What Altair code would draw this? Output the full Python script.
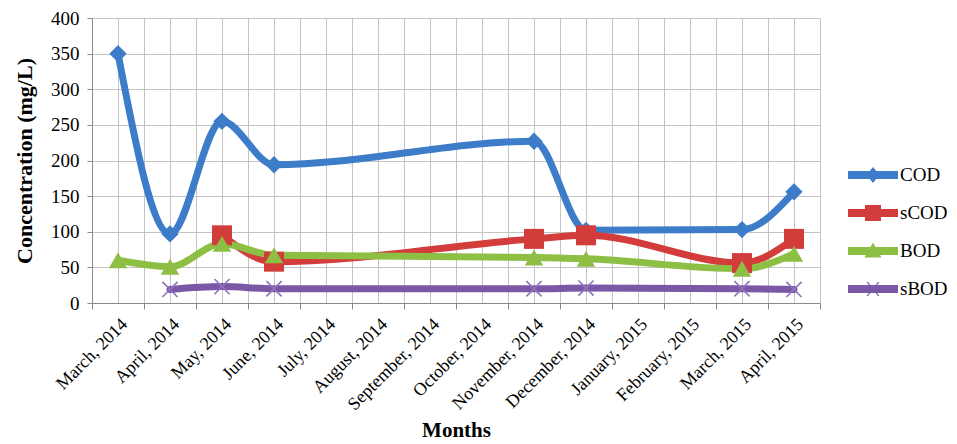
import json
import altair as alt
import pandas as pd

months = ["March, 2014", "April, 2014", "May, 2014", "June, 2014", "July, 2014",
          "August, 2014", "September, 2014", "October, 2014", "November, 2014",
          "December, 2014", "January, 2015", "February, 2015", "March, 2015", "April, 2015"]
series_names = ["COD", "sCOD", "BOD", "sBOD"]
cod = [350, 97, 255, 194, None, None, None, None, 227, 102, None, None, 103, 156]
scod = [None, None, 95, 58, None, None, None, None, 90, 95, None, None, 56, 90]
bod = [60, 51, 83, 67, None, None, None, None, 64, 62, None, None, 48, 69]
sbod = [None, 19, 23, 20, None, None, None, None, 20, 21, None, None, 20, 19]
colors = ["#3d7cc9", "#d23c3a", "#8dbf45", "#7b58a6"]
y_ticks = [0, 50, 100, 150, 200, 250, 300, 350, 400]

rows = []
for name, vals in zip(series_names, [cod, scod, bod, sbod]):
    for i, v in enumerate(vals):
        if v is not None:
            rows.append({"idx": i, "series": name, "value": v, "month": months[i]})
df = pd.DataFrame(rows)

FONT = "Liberation Serif"
label_js = json.dumps(months)

x_enc = alt.X(
    "idx:Q",
    scale=alt.Scale(domain=[-0.5, 13.5], nice=False, zero=False),
    axis=alt.Axis(
        values=[i / 2 - 0.5 for i in range(29)],
        grid=True, gridColor="#c4c4c4", gridWidth=1,
        labelExpr=f"datum.value % 1 === 0 ? {label_js}[datum.value] : ''",
        labelAngle=-45, labelFont=FONT, labelFontSize=18,
        labelColor="#000000", labelOverlap=False, labelBound=False, labelPadding=6,
        tickOpacity={"condition": {"test": "datum.value % 1 !== 0", "value": 1}, "value": 0},
        tickSize=6, tickColor="#8a8a8a", domainColor="#8a8a8a",
        title="Months", titleFont=FONT, titleFontSize=21, titleFontWeight="bold",
        titleColor="#000000", titlePadding=6,
    ),
)
y_enc = alt.Y(
    "value:Q",
    scale=alt.Scale(domain=[0, 400], nice=False),
    axis=alt.Axis(
        values=y_ticks, grid=True, gridColor="#c4c4c4", gridWidth=1,
        labelFont=FONT, labelFontSize=19, labelColor="#000000", labelPadding=8,
        tickSize=5, tickColor="#8a8a8a", domainColor="#8a8a8a",
        title="Concentration (mg/L)", titleFont=FONT, titleFontSize=22,
        titleFontWeight="bold", titleColor="#000000", titlePadding=14,
    ),
)

base = alt.Chart(df)

line_layers = []
for name, col in zip(series_names, colors):
    line_layers.append(
        base.mark_line(interpolate="monotone", strokeWidth=7, strokeCap="round", color=col)
        .encode(x=x_enc, y=y_enc)
        .transform_filter(alt.datum.series == name)
    )

marker_shapes = ["diamond", "square", "triangle-up", "M-1,-1L1,1M-1,1L1,-1"]
marker_sizes = [300, 400, 340, 230]
point_layers = []
for name, col, shp, sz in zip(series_names, colors, marker_shapes, marker_sizes):
    if name == "sBOD":
        mk = base.mark_point(shape=shp, filled=False, size=sz, strokeWidth=1.6,
                             opacity=1, color="#8f74bd")
    else:
        mk = base.mark_point(shape=shp, filled=True, size=sz, opacity=1, color=col)
    point_layers.append(
        mk.encode(x=x_enc, y=y_enc).transform_filter(alt.datum.series == name)
    )

legend_paths = [
    "M-1,-0.4H4V0.4H-1Z M1.5,-0.8L2.15,0L1.5,0.8L0.85,0Z",
    "M-1,-0.4H4V0.4H-1Z M0.7,-0.8H2.3V0.8H0.7Z",
    "M-1,-0.4H4V0.4H-1Z M1.5,-0.85L2.35,0.65L0.65,0.65Z",
    "M-1,-0.4H4V0.4H-1Z M0.85,-0.7L1,-0.7L2.15,0.7L2,0.7Z M2,-0.7L2.15,-0.7L1,0.7L0.85,0.7Z",
]
leg = dict(title=None, orient="none", legendX=756, legendY=147, padding=0,
           labelFont=FONT, labelFontSize=19, labelColor="#000000",
           symbolSize=400, labelOffset=32, rowPadding=18, symbolOpacity=1,
           symbolStrokeWidth=0)
legend_layer = base.mark_point(filled=True, opacity=0, size=400).encode(
    x=x_enc, y=y_enc,
    color=alt.Color("series:N", scale=alt.Scale(domain=series_names, range=colors),
                    legend=alt.Legend(**leg)),
    shape=alt.Shape("series:N", scale=alt.Scale(domain=series_names, range=legend_paths),
                    legend=alt.Legend(**leg)),
)

chart = alt.layer(*line_layers, *point_layers, legend_layer).properties(
    width=728, height=285,
    padding={"left": 5, "top": 1, "right": 0, "bottom": 0},
).configure_view(strokeWidth=0)

chart.save("out.html", embed_options={"renderer": "svg", "actions": False})
